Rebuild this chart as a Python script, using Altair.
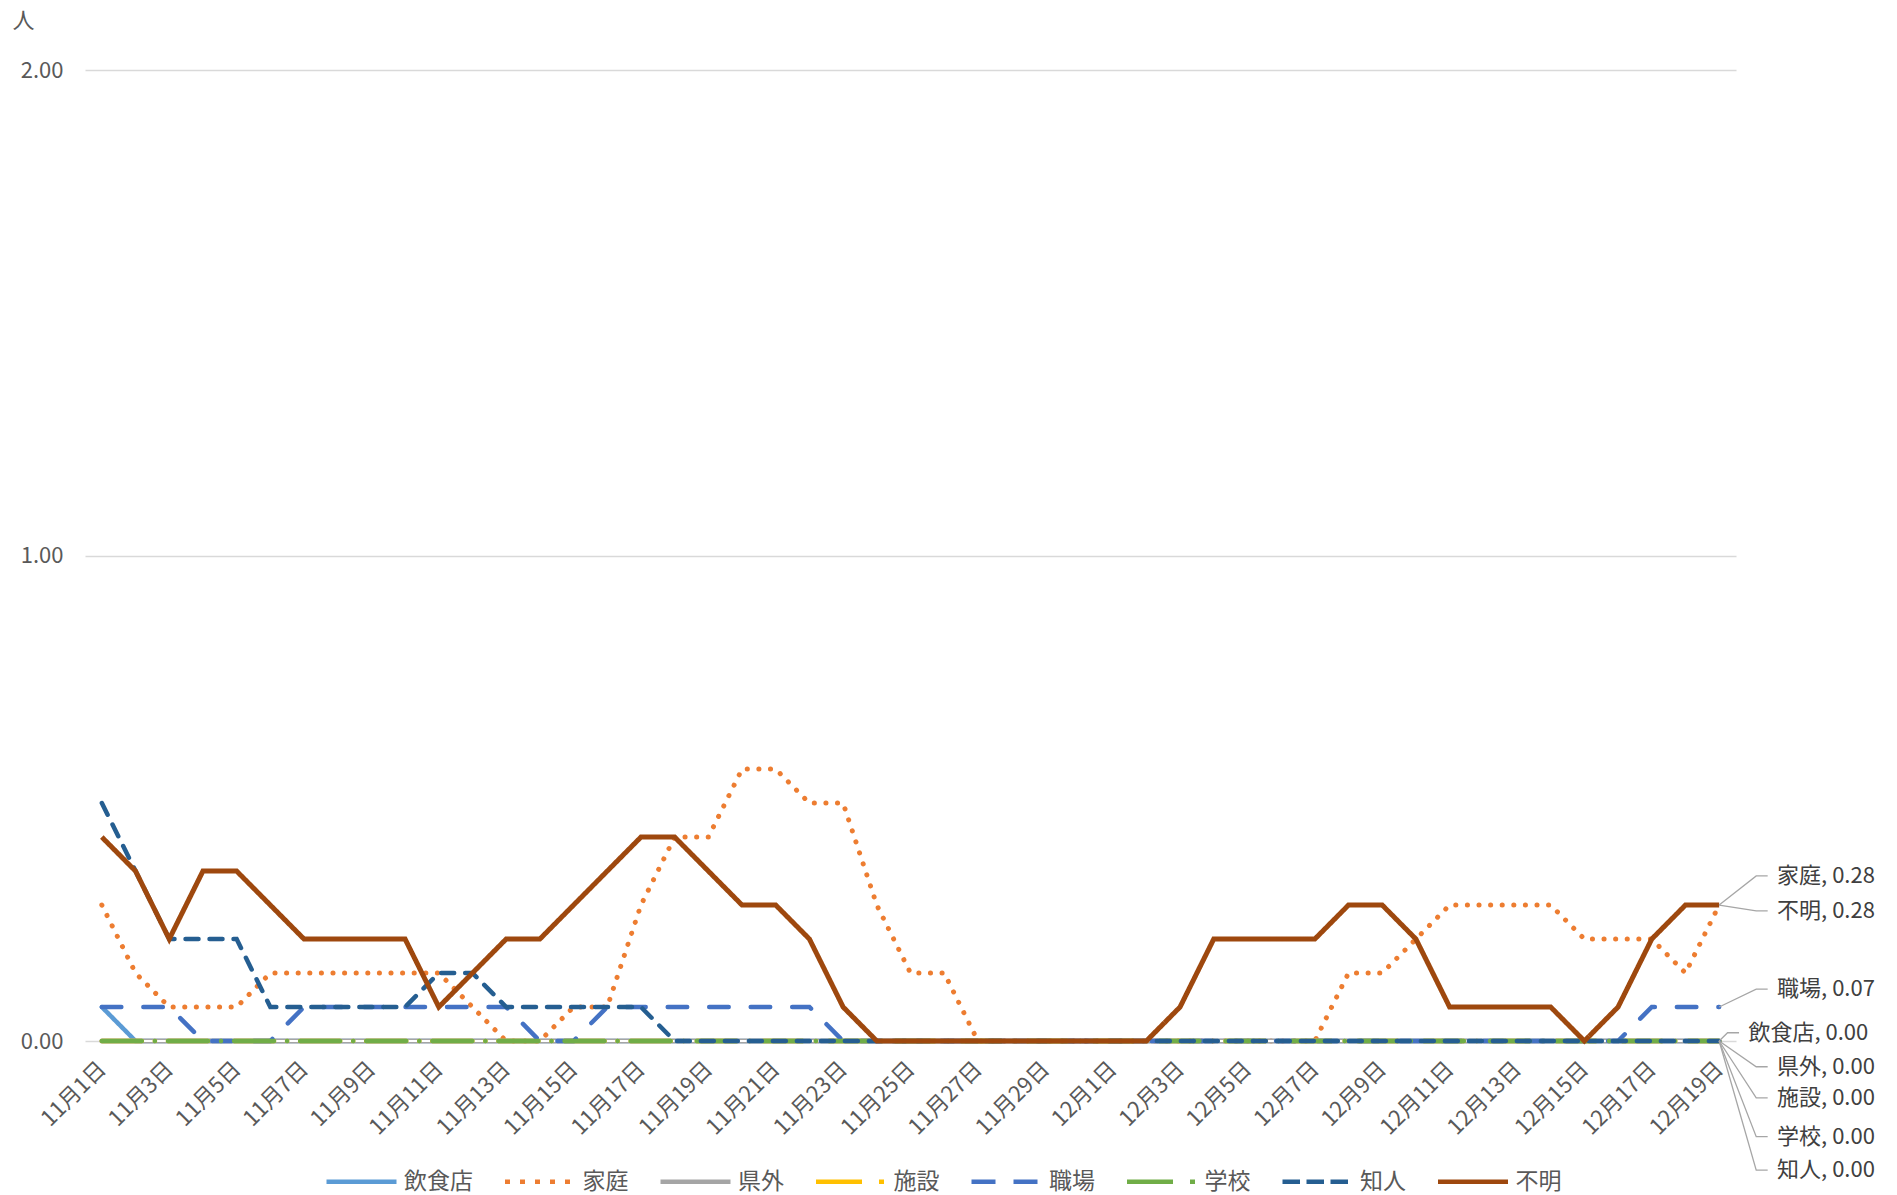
import altair as alt
import pandas as pd

FONT = "Noto Sans CJK JP"

# x categories: 11月1日 ... 12月19日
dates = [f"11月{d}日" for d in range(1, 31)] + [f"12月{d}日" for d in range(1, 20)]

series_names = ["飲食店", "家庭", "県外", "施設", "職場", "学校", "知人", "不明"]

v_inshoku = [0.07, 0.00, 0.00, 0.00, 0.00, 0.00, 0.00, 0.00, 0.00, 0.00,
             0.00, 0.00, 0.00, 0.00, 0.00, 0.00, 0.00, 0.00, 0.00, 0.00,
             0.00, 0.00, 0.00, 0.00, 0.00, 0.00, 0.00, 0.00, 0.00, 0.00,
             0.00, 0.00, 0.00, 0.00, 0.00, 0.00, 0.00, 0.00, 0.00, 0.00,
             0.00, 0.00, 0.00, 0.00, 0.00, 0.00, 0.00, 0.00, 0.00]
v_katei = [0.28, 0.14, 0.07, 0.07, 0.07, 0.14, 0.14, 0.14, 0.14, 0.14,
           0.14, 0.07, 0.00, 0.00, 0.07, 0.07, 0.28, 0.42, 0.42, 0.56,
           0.56, 0.49, 0.49, 0.28, 0.14, 0.14, 0.00, 0.00, 0.00, 0.00,
           0.00, 0.00, 0.00, 0.00, 0.00, 0.00, 0.00, 0.14, 0.14, 0.21,
           0.28, 0.28, 0.28, 0.28, 0.21, 0.21, 0.21, 0.14, 0.28]
v_kengai = [0.00, 0.00, 0.00, 0.00, 0.00, 0.00, 0.00, 0.00, 0.00, 0.00,
            0.00, 0.00, 0.00, 0.00, 0.00, 0.00, 0.00, 0.00, 0.00, 0.00,
            0.00, 0.00, 0.00, 0.00, 0.00, 0.00, 0.00, 0.00, 0.00, 0.00,
            0.00, 0.00, 0.00, 0.00, 0.00, 0.00, 0.00, 0.00, 0.00, 0.00,
            0.00, 0.00, 0.00, 0.00, 0.00, 0.00, 0.00, 0.00, 0.00]
v_shisetsu = [0.00, 0.00, 0.00, 0.00, 0.00, 0.00, 0.00, 0.00, 0.00, 0.00,
              0.00, 0.00, 0.00, 0.00, 0.00, 0.00, 0.00, 0.00, 0.00, 0.00,
              0.00, 0.00, 0.00, 0.00, 0.00, 0.00, 0.00, 0.00, 0.00, 0.00,
              0.00, 0.00, 0.00, 0.00, 0.00, 0.00, 0.00, 0.00, 0.00, 0.00,
              0.00, 0.00, 0.00, 0.00, 0.00, 0.00, 0.00, 0.00, 0.00]
v_shokuba = [0.07, 0.07, 0.07, 0.00, 0.00, 0.00, 0.07, 0.07, 0.07, 0.07,
             0.07, 0.07, 0.07, 0.00, 0.00, 0.07, 0.07, 0.07, 0.07, 0.07,
             0.07, 0.07, 0.00, 0.00, 0.00, 0.00, 0.00, 0.00, 0.00, 0.00,
             0.00, 0.00, 0.00, 0.00, 0.00, 0.00, 0.00, 0.00, 0.00, 0.00,
             0.00, 0.00, 0.00, 0.00, 0.00, 0.00, 0.07, 0.07, 0.07]
v_gakko = [0.00, 0.00, 0.00, 0.00, 0.00, 0.00, 0.00, 0.00, 0.00, 0.00,
           0.00, 0.00, 0.00, 0.00, 0.00, 0.00, 0.00, 0.00, 0.00, 0.00,
           0.00, 0.00, 0.00, 0.00, 0.00, 0.00, 0.00, 0.00, 0.00, 0.00,
           0.00, 0.00, 0.00, 0.00, 0.00, 0.00, 0.00, 0.00, 0.00, 0.00,
           0.00, 0.00, 0.00, 0.00, 0.00, 0.00, 0.00, 0.00, 0.00]
v_chijin = [0.49, 0.35, 0.21, 0.21, 0.21, 0.07, 0.07, 0.07, 0.07, 0.07,
            0.14, 0.14, 0.07, 0.07, 0.07, 0.07, 0.07, 0.00, 0.00, 0.00,
            0.00, 0.00, 0.00, 0.00, 0.00, 0.00, 0.00, 0.00, 0.00, 0.00,
            0.00, 0.00, 0.00, 0.00, 0.00, 0.00, 0.00, 0.00, 0.00, 0.00,
            0.00, 0.00, 0.00, 0.00, 0.00, 0.00, 0.00, 0.00, 0.00]
v_fumei = [0.42, 0.35, 0.21, 0.35, 0.35, 0.28, 0.21, 0.21, 0.21, 0.21,
           0.07, 0.14, 0.21, 0.21, 0.28, 0.35, 0.42, 0.42, 0.35, 0.28,
           0.28, 0.21, 0.07, 0.00, 0.00, 0.00, 0.00, 0.00, 0.00, 0.00,
           0.00, 0.00, 0.07, 0.21, 0.21, 0.21, 0.21, 0.28, 0.28, 0.21,
           0.07, 0.07, 0.07, 0.07, 0.00, 0.07, 0.21, 0.28, 0.28]

all_values = [v_inshoku, v_katei, v_kengai, v_shisetsu, v_shokuba, v_gakko, v_chijin, v_fumei]

# styles
colors = ["#5B9BD5", "#ED7D31", "#A5A5A5", "#FFC000", "#4472C4", "#70AD47", "#255E91", "#9E480E"]
line_dashes = [[1, 0], [0.1, 11.5], [1, 0], [40, 13, 0.1, 13], [19.5, 22], [40, 13, 0.1, 13], [13, 11], [1, 0]]
legend_dashes = [[1, 0], [5, 10], [1, 0], [46, 17, 5, 20], [24, 18], [46, 17, 5, 20], [17.5, 6.5], [1, 0]]
widths = [4.5, 5, 5, 4.5, 4.5, 4.5, 4.5, 5]

# end-label annotation layout (label order top to bottom, label y in data units)
label_order = ["家庭", "不明", "職場", "飲食店", "県外", "施設", "学校", "知人"]
label_y = [0.340, 0.268, 0.107, 0.017, -0.053, -0.117, -0.197, -0.266]

rows = []
for name, vals in zip(series_names, all_values):
    for i, v in enumerate(vals):
        rows.append({"idx": i, "date": dates[i], "series": name, "value": v})
df = pd.DataFrame(rows)

last_idx = len(dates) - 1
lab_rows, lead_rows = [], []
for name, ly in zip(label_order, label_y):
    v = all_values[series_names.index(name)][-1]
    near = name == "飲食店"
    tx = 48.87 if near else 49.72
    ex = 48.25 if near else 49.10
    hx = 48.59 if near else 49.44
    lab_rows.append({"lx": tx, "ly": ly, "text": f"{name}, {v:.2f}"})
    lead_rows.append({"lx": last_idx, "ly": v, "label": name, "seq": 0})
    lead_rows.append({"lx": ex, "ly": ly, "label": name, "seq": 1})
    lead_rows.append({"lx": hx, "ly": ly, "label": name, "seq": 2})
lab_df = pd.DataFrame(lab_rows)
lead_df = pd.DataFrame(lead_rows)

tick_vals = list(range(0, len(dates), 2))
label_arr = "[" + ",".join(f"'{d}'" for d in dates) + "]"

x_scale = alt.Scale(domain=[-0.5, 48.5], nice=False, zero=False)
y_scale = alt.Scale(domain=[0, 2], nice=False)

x_axis = alt.Axis(values=tick_vals, labelExpr=f"{label_arr}[datum.value]", labelAngle=-45,
                  labelAlign="right", labelBaseline="middle", labelPadding=24,
                  labelFontSize=22, labelFont=FONT, labelColor="#595959", labelOverlap=False,
                  grid=False, domain=False, ticks=False, title=None)
y_axis = alt.Axis(values=[0, 1, 2], format=".2f", grid=True, gridColor="#D9D9D9", gridWidth=1.5,
                  domain=False, ticks=False, labelPadding=22, labelFontSize=22, labelFont=FONT,
                  labelColor="#595959", title="人", titleAngle=0, titleX=-62, titleY=-50,
                  titleAlign="center", titleBaseline="middle", titleFontSize=22,
                  titleFontWeight="normal", titleColor="#595959", titleFont=FONT)

X = lambda f: alt.X(f, scale=x_scale, axis=x_axis)
Y = lambda f: alt.Y(f, scale=y_scale, axis=y_axis)

legend = alt.Legend(orient="none", legendX=239, legendY=1074, direction="horizontal", columns=8,
                    symbolType="stroke", symbolSize=4900, symbolStrokeWidth=4.5,
                    labelFontSize=23, labelFont=FONT, labelColor="#595959", labelOffset=5,
                    columnPadding=22.5, padding=0, title=None)

# legend-only layer: one point per series (draws nothing), carries the legend
legend_df = pd.DataFrame({"series": series_names, "idx": [0] * len(series_names),
                          "value": [0] * len(series_names)})
layers = [alt.Chart(legend_df).mark_line(strokeCap="butt", strokeWidth=4.5, clip=False).encode(
    x=X("idx:Q"), y=Y("value:Q"),
    color=alt.Color("series:N", scale=alt.Scale(domain=series_names, range=colors), legend=legend),
    strokeDash=alt.StrokeDash("series:N", scale=alt.Scale(domain=series_names, range=legend_dashes),
                              legend=legend))]

for name, col, dash, w in zip(series_names, colors, line_dashes, widths):
    base = alt.Chart(df).transform_filter(alt.datum.series == name)
    cap = "butt" if name == "不明" else "round"
    layers.append(base.mark_line(strokeWidth=w, strokeCap=cap, color=col, strokeDash=dash,
                                 clip=False).encode(x=X("idx:Q"), y=Y("value:Q")))
    if name == "県外":
        layers.append(base.mark_line(strokeWidth=1.8, color="white", clip=False).encode(
            x=X("idx:Q"), y=Y("value:Q")))

leaders = alt.Chart(lead_df).mark_line(color="#A6A6A6", strokeWidth=1.3, clip=False).encode(
    x=X("lx:Q"), y=Y("ly:Q"), detail="label:N", order="seq:Q")
labels = alt.Chart(lab_df).mark_text(align="left", baseline="middle", fontSize=22, font=FONT,
                                     color="#404040", clip=False).encode(
    x=X("lx:Q"), y=Y("ly:Q"), text="text:N")

chart = alt.layer(*layers, leaders, labels).properties(
    width=1651, height=971,
    autosize=alt.AutoSizeParams(type="none"),
    padding={"left": 77, "top": 62, "right": 153, "bottom": 154},
    background="white",
).configure_view(stroke=None)

chart.save("out.html", embed_options={"renderer": "svg", "actions": False})
